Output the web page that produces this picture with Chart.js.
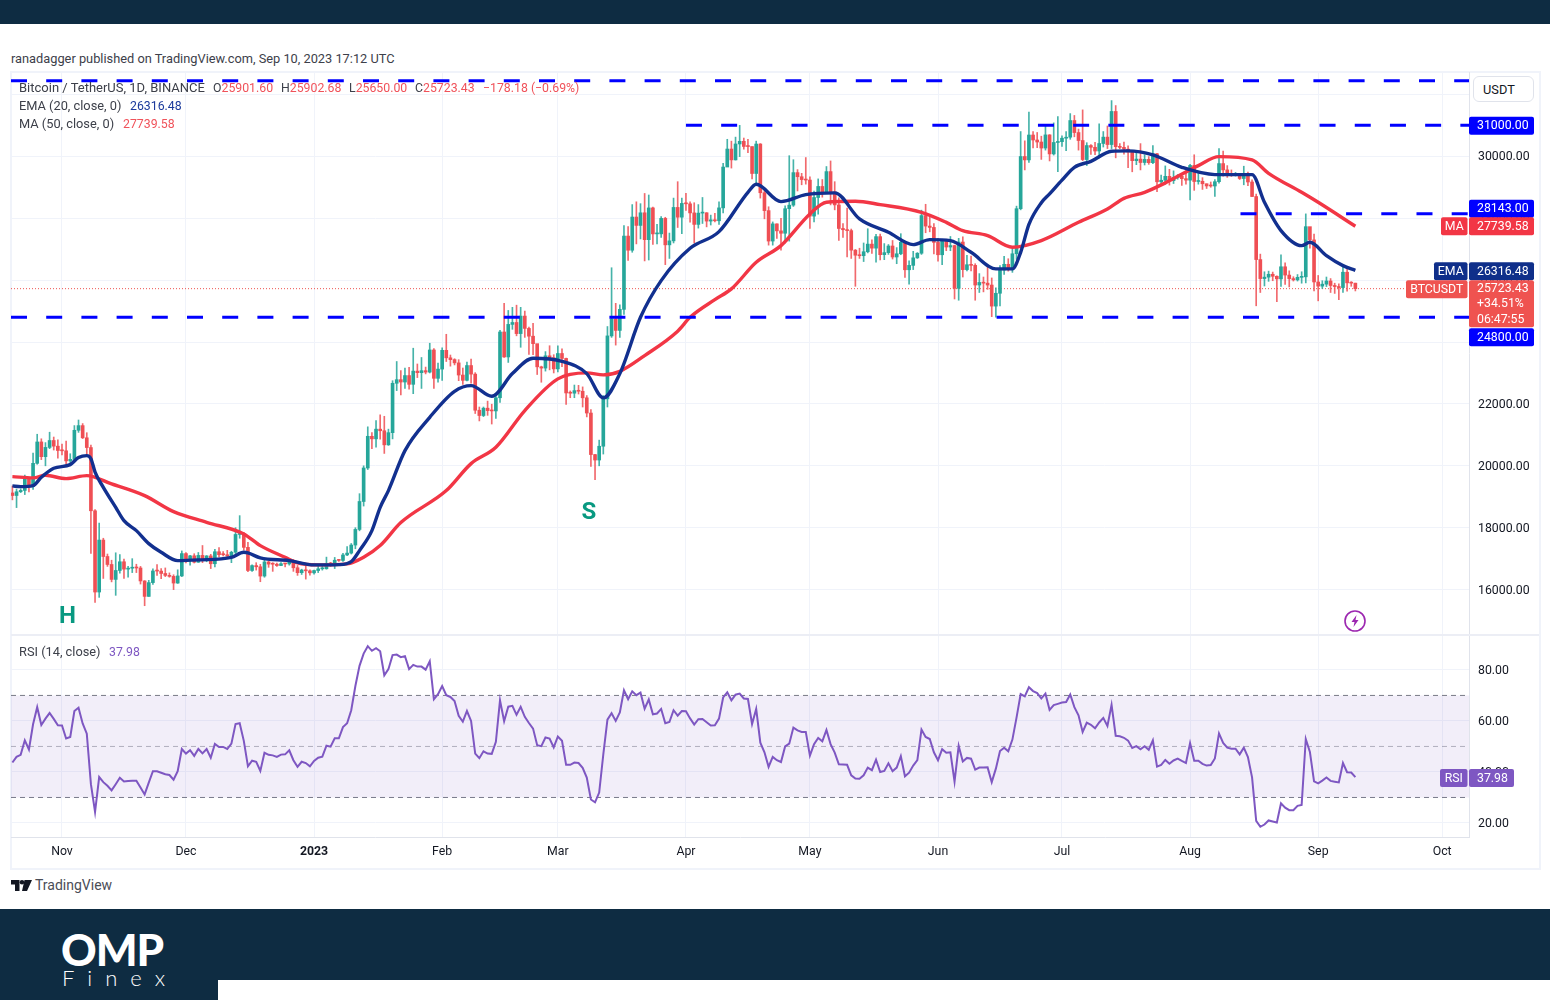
<!DOCTYPE html>
<html>
<head>
<meta charset="utf-8">
<title>BTCUSDT daily</title>
<script src="https://cdn.jsdelivr.net/npm/chart.js@4"></script>
<style>
  html, body { margin: 0; background: #fff; }
  body { position: relative; width: 1550px; height: 1000px; overflow: hidden; font-family: Roboto, sans-serif; color: #3d404a; }
  .abs { position: absolute; white-space: nowrap; }
  canvas { position: absolute; display: block; }
  .bar { position: absolute; background: #0e2c42; }
  .txt { font-size: 12.8px; line-height: 16px; }
  .num { font-size: 12.3px; line-height: 16px; }
  .red { color: #f0525a; }
</style>
</head>
<body>
<div class="bar" style="left:0;top:0;width:1550px;height:24px"></div>
<div class="bar" style="left:0;top:909px;width:1550px;height:91px"></div>
<div class="abs" style="left:218px;top:980px;width:1332px;height:20px;background:#fff"></div>

<div class="abs txt" style="left:11px;top:51px">ranadagger published on TradingView.com, Sep 10, 2023 17:12 UTC</div>

<div class="abs" style="left:10px;top:71px;width:1527px;height:795px;border:2px solid #f0f3fa"></div>
<canvas id="priceChart" style="left:11px;top:72px" width="1528" height="562"></canvas>
<div class="abs" style="left:11px;top:634px;width:1528px;height:2px;background:#eceef5"></div>
<canvas id="rsiChart" style="left:11px;top:636px" width="1528" height="231"></canvas>

<div class="abs txt" style="left:19px;top:80px;font-size:13px">Bitcoin / TetherUS, 1D, BINANCE</div>
<div class="abs num" style="left:213px;top:80px">O<span class="red">25901.60</span></div>
<div class="abs num" style="left:281px;top:80px">H<span class="red">25902.68</span></div>
<div class="abs num" style="left:349px;top:80px">L<span class="red">25650.00</span></div>
<div class="abs num" style="left:415px;top:80px">C<span class="red">25723.43</span></div>
<div class="abs num red" style="left:483px;top:80px">−178.18 (−0.69%)</div>
<div class="abs txt" style="left:19px;top:98px">EMA (20, close, 0)</div>
<div class="abs num" style="left:130px;top:98px;color:#1b3a9c">26316.48</div>
<div class="abs txt" style="left:19px;top:116px">MA (50, close, 0)</div>
<div class="abs num red" style="left:123px;top:116px">27739.58</div>
<div class="abs txt" style="left:19px;top:644px">RSI (14, close)</div>
<div class="abs num" style="left:109px;top:644px;color:#7e57c2">37.98</div>

<div class="abs txt" style="left:1473px;top:76px;line-height:25px;padding-left:9px;box-sizing:border-box;width:61px;height:26px;background:#fff;border:1px solid #e0e3eb;border-radius:6px;color:#131722">USDT</div>

<svg class="abs" style="left:1343px;top:609px" width="24" height="24" viewBox="0 0 24 24">
  <circle cx="12" cy="12" r="10" fill="#fff" stroke="#9c27b0" stroke-width="1.6"/>
  <path d="M13.5 6 L8.5 13 H11.5 L10.5 18 L15.5 11 H12.5 Z" fill="#9c27b0"/>
</svg>

<svg class="abs" style="left:11px;top:880px" width="21" height="11" viewBox="0 0 21 11">
  <path d="M0 0 H8.5 V11 H4 V4.5 H0 Z M13.5 0 H21 L16 11 H11 Z" fill="#131722"/>
  <circle cx="11" cy="2.3" r="2.3" fill="#131722"/>
</svg>
<div class="abs" style="left:35px;top:877px;font-size:14px;line-height:16px;color:#4a4d57">TradingView</div>

<div class="abs" style="left:61px;top:924px;font-family:Lato,sans-serif;font-weight:900;font-size:44px;line-height:50px;color:#fff;letter-spacing:-1px">OMP</div>
<div class="abs" style="left:62px;top:965px;font-family:Lato,sans-serif;font-weight:300;font-size:22px;line-height:26px;color:#fff;letter-spacing:13px">Finex</div>

<script>
// day number counted from Nov 1 2022, first candle is Oct 20 2022
const firstDay = -12;
const monthDays = [0, 30, 61, 92, 120, 151, 181, 212, 242, 273, 304, 334];
const monthLabels = ['Nov', 'Dec', '2023', 'Feb', 'Mar', 'Apr', 'May', 'Jun', 'Jul', 'Aug', 'Sep', 'Oct'];
const priceTicks = [16000, 18000, 20000, 22000, 24000, 26000, 28000, 30000, 32000];
const rsiTicks = [20, 40, 60, 80];
const rsiLevels = [70, 50, 30];

const opens = [
  19123, 19041, 19163, 19205, 19571, 19330, 20080, 20772, 20296, 20594, 20818, 20635,
  20495, 20485, 20159, 20209, 21148, 21299, 20905, 20590, 18547, 15922, 17601, 17070, 16812, 16330, 16619, 16900, 16662, 16692, 16700, 16699, 16280, 15781, 16226, 16603, 16599, 16522, 16459, 16428, 16212, 16442,
  17164, 16978, 17092, 16885, 17105, 16966, 17089, 16836, 17224, 17128, 17127, 17085, 17207, 17782, 17813, 17365, 16618, 16776, 16738, 16438, 16895, 16824, 16821, 16778, 16837, 16830, 16918, 16706, 16547, 16633, 16607,
  16542, 16616, 16672, 16674, 16850, 16830, 16950, 16943, 17120, 17180, 17440, 17944, 18847, 19930, 20954, 20871, 21185, 21133, 20677, 21071, 22667, 22783, 22707, 22916, 22633, 23060, 23009, 23074, 23028, 23743, 22827,
  23125, 23732, 23489, 23431, 23326, 22933, 22762, 23240, 22963, 21796, 21625, 21862, 21783, 21773, 22199, 24324, 23517, 24569, 24631, 24272, 24838, 24439, 24188, 23947, 23198, 23158, 23554, 23493,
  23131, 23629, 23470, 22354, 22346, 22430, 22409, 22197, 21705, 20363, 20187, 20632, 22163, 24197, 24746, 24375, 25055, 27423, 26965, 28038, 27767, 28175, 27307, 28333, 27493, 27494, 27994, 27139, 27268, 28348, 28033,
  28478, 28465, 28171, 27800, 28165, 28175, 27907, 27947, 27917, 28334, 29653, 30235, 29884, 30399, 30485, 30318, 30315, 29445, 30397, 28823, 28245, 27262, 27817, 27591, 27514, 28307, 28422, 29473, 29340, 29248,
  29233, 28068, 28669, 29026, 28838, 29506, 28848, 28430, 27668, 27628, 27599, 26968, 26804, 26788, 26917, 27163, 27033, 27405, 26821, 26888, 27102, 26747, 26851, 27225, 26334, 26476, 26719, 26868, 28085, 27746, 27702,
  27219, 26819, 27249, 27069, 27116, 25735, 27230, 26339, 26498, 26477, 25841, 25925, 25902, 25841, 25160, 25575, 26327, 26511, 26336, 26851, 28307, 29993, 29884, 30688, 30527, 30462, 30267, 30692, 30077, 30447,
  30472, 30585, 30617, 31156, 30767, 30510, 29895, 30348, 30292, 30171, 30414, 30620, 30380, 31449, 30312, 30289, 30231, 30139, 29859, 29910, 29800, 29901, 29794, 30083, 29176, 29227, 29354, 29212, 29314, 29357, 29278,
  29230, 29705, 29186, 29193, 29113, 29042, 29041, 29180, 29765, 29561, 29429, 29397, 29415, 29283, 29408, 29170, 28701, 26664, 26049, 26096, 26189, 26124, 26040, 26431, 26163, 26048, 26008, 26089, 26106, 27727, 27299,
  25940, 25805, 25869, 25971, 25826, 25792, 25759, 26255, 25911, 25902
];
const highs = [
  19347, 19250, 19257, 19700, 19601, 20413, 21020, 20873, 20750, 21086, 20930, 20840,
  20700, 20800, 20390, 21300, 21480, 21365, 21070, 20670, 18590, 18150, 17660, 17150, 16950, 17190, 17130, 16990, 16750, 17000, 16820, 16750, 16290, 16300, 16670, 16810, 16680, 16700, 16540, 16480, 16640, 17250,
  17200, 17105, 17160, 17200, 17425, 17100, 17140, 17300, 17355, 17225, 17270, 17240, 18000, 18390, 17850, 17530, 16800, 16870, 16815, 16960, 16920, 16870, 16860, 16870, 16840, 16930, 16970, 16780, 16660, 16770, 16640,
  16630, 16760, 16780, 17050, 16880, 17040, 16980, 17175, 17390, 17490, 18000, 19100, 20000, 21260, 21070, 21460, 21650, 21600, 21185, 22750, 23370, 23080, 23160, 23180, 23800, 23290, 23500, 23190, 23960, 23790, 23320,
  23810, 24250, 23580, 23460, 23430, 23160, 23350, 23450, 23010, 21900, 21900, 22090, 21990, 22320, 24380, 25250, 25020, 25120, 25190, 25120, 25000, 24480, 24600, 23900, 23220, 23690, 23880, 23590,
  23880, 23780, 23480, 22420, 22610, 22600, 22550, 22270, 21820, 20370, 20830, 22270, 24500, 26400, 25250, 25200, 27760, 27730, 28440, 28530, 28470, 28800, 28750, 28360, 27800, 28050, 28030, 27520, 28650, 29180, 28650,
  28800, 28530, 28500, 28440, 28670, 28180, 28100, 28160, 28530, 29770, 30550, 30490, 30620, 31000, 30590, 30550, 30310, 30490, 30410, 28900, 28370, 27880, 27820, 28000, 28400, 30020, 29890, 29570, 29450, 29960,
  29340, 28880, 29270, 29250, 29670, 29850, 29180, 28660, 27830, 28330, 27650, 26990, 27030, 27200, 27660, 27300, 27480, 27490, 27180, 27150, 27280, 27050, 27500, 27220, 26620, 26930, 26890, 28260, 28450, 28040, 27830,
  27350, 27290, 27320, 27410, 27130, 27350, 27400, 26800, 26780, 26530, 26210, 26100, 26450, 26070, 25750, 26470, 26770, 26690, 27000, 28390, 30800, 30500, 31430, 30800, 30770, 30650, 31000, 30700, 31080, 31280,
  30660, 30800, 31380, 31320, 30880, 31500, 30440, 30380, 30450, 31050, 30800, 30980, 31800, 31640, 30410, 30460, 30340, 30050, 30190, 30410, 30050, 29990, 30350, 30100, 29390, 29690, 29580, 29530, 29410, 29450, 29530,
  29740, 30050, 29450, 29310, 29110, 29170, 29250, 30250, 30170, 29700, 29560, 29480, 29450, 29680, 29490, 29240, 28780, 26840, 26270, 26290, 26260, 26140, 26820, 26560, 26300, 26110, 26180, 26270, 28140, 27580, 27490,
  26150, 25980, 26100, 26050, 25900, 25880, 26450, 26430, 25950, 25902
];
const lows = [
  18900, 18650, 19135, 19071, 19157, 19240, 20050, 20200, 20000, 20553, 20510, 20250,
  20350, 20050, 20030, 20180, 21080, 20880, 20380, 17166, 15588, 15750, 16361, 16750, 16250, 15815, 16530, 16360, 16400, 16550, 16550, 16180, 15480, 15780, 16170, 16460, 16350, 16420, 16400, 16000, 16200, 16420,
  16860, 16790, 16860, 16880, 16870, 16900, 16680, 16730, 17060, 17090, 17070, 16870, 17090, 17660, 17275, 16580, 16585, 16630, 16255, 16400, 16720, 16590, 16750, 16775, 16730, 16790, 16590, 16460, 16490, 16340, 16470,
  16500, 16550, 16630, 16660, 16750, 16680, 16910, 16910, 17100, 17150, 17320, 17900, 18700, 19880, 20550, 20600, 20860, 20400, 20660, 20870, 22430, 22290, 22500, 22480, 22330, 22850, 22500, 22970, 23000, 22500, 22700,
  22760, 23370, 23220, 23260, 22750, 22630, 22740, 22670, 21690, 21450, 21590, 21630, 21350, 21530, 22050, 23500, 23340, 24410, 24200, 23830, 24150, 23600, 23590, 22950, 22700, 23060, 23100, 23000,
  23030, 23200, 21980, 22200, 22200, 22320, 21900, 21580, 19980, 19550, 20000, 20380, 21900, 24150, 23900, 24150, 24890, 26640, 26900, 27170, 27330, 26620, 26650, 27150, 27170, 27380, 26500, 26700, 27200, 27700, 27500,
  28250, 27870, 27200, 27680, 27830, 27720, 27780, 27880, 27800, 28170, 29770, 29620, 29880, 29990, 30230, 30120, 29270, 29100, 28650, 27980, 27130, 27130, 27350, 26970, 27200, 27260, 28380, 28880, 29080, 29100,
  27670, 27880, 28130, 28680, 28800, 28430, 28270, 27280, 27380, 26750, 26700, 25800, 26700, 26600, 26880, 26860, 26580, 26650, 26660, 26830, 26680, 26530, 26820, 26090, 25870, 26340, 26700, 26830, 27530, 27560, 26850,
  26610, 26500, 26950, 26950, 25390, 25350, 26100, 26300, 26300, 25350, 25600, 25620, 25700, 24820, 24800, 25170, 26180, 26290, 26250, 26670, 28270, 29560, 29800, 30270, 30280, 29900, 30200, 29850, 30040, 29500,
  30320, 30180, 30550, 30630, 30200, 29860, 29700, 30060, 30050, 29950, 30300, 30250, 30250, 29950, 30250, 30070, 29630, 29500, 29730, 29560, 29720, 29740, 29760, 28860, 29050, 29100, 29070, 29120, 29260, 29060, 29100,
  28590, 28900, 29100, 28930, 28960, 29000, 28700, 29130, 29360, 29320, 29350, 29360, 29250, 29080, 29050, 28700, 25170, 25600, 25810, 25960, 25980, 25300, 25800, 25860, 25780, 25970, 25970, 25900, 25910, 27030, 25650,
  25330, 25730, 25790, 25600, 25570, 25370, 25600, 25640, 25800, 25650
];
const closes = [
  19040, 19162, 19206, 19570, 19331, 20080, 20771, 20295, 20595, 20818, 20635, 20495,
  20485, 20159, 20209, 21148, 21299, 20905, 20590, 18547, 15922, 17601, 17070, 16812, 16330, 16619, 16900, 16662, 16692, 16700, 16699, 16280, 15781, 16226, 16603, 16599, 16522, 16459, 16428, 16212, 16442, 17164,
  16978, 17092, 16885, 17105, 16966, 17089, 16836, 17224, 17128, 17127, 17085, 17207, 17782, 17813, 17365, 16618, 16776, 16738, 16438, 16895, 16824, 16821, 16778, 16837, 16830, 16918, 16706, 16547, 16633, 16607, 16542,
  16616, 16672, 16674, 16850, 16830, 16950, 16943, 17120, 17180, 17440, 17944, 18847, 19930, 20954, 20871, 21185, 21133, 20677, 21071, 22667, 22783, 22707, 22916, 22633, 23060, 23009, 23074, 23028, 23743, 22827, 23125,
  23732, 23489, 23431, 23326, 22933, 22762, 23240, 22963, 21796, 21625, 21862, 21783, 21773, 22199, 24324, 23517, 24569, 24631, 24272, 24838, 24439, 24188, 23947, 23198, 23158, 23554, 23493, 23131,
  23629, 23470, 22354, 22346, 22430, 22409, 22197, 21705, 20363, 20187, 20632, 22163, 24197, 24746, 24375, 25055, 27423, 26965, 28038, 27767, 28175, 27307, 28333, 27493, 27494, 27994, 27139, 27268, 28348, 28033, 28478,
  28465, 28171, 27800, 28165, 28175, 27907, 27947, 27917, 28334, 29653, 30235, 29884, 30399, 30485, 30318, 30315, 29445, 30397, 28823, 28245, 27262, 27817, 27591, 27514, 28307, 28422, 29473, 29340, 29248, 29233,
  28068, 28669, 29026, 28838, 29506, 28848, 28430, 27668, 27628, 27599, 26968, 26804, 26788, 26917, 27163, 27033, 27405, 26821, 26888, 27102, 26747, 26851, 27225, 26334, 26476, 26719, 26868, 28085, 27746, 27702, 27219,
  26819, 27249, 27069, 27116, 25735, 27230, 26339, 26498, 26477, 25841, 25925, 25902, 25841, 25160, 25575, 26327, 26511, 26336, 26851, 28307, 29993, 29884, 30688, 30527, 30462, 30267, 30692, 30077, 30447, 30472,
  30585, 30617, 31156, 30767, 30510, 29895, 30348, 30292, 30171, 30414, 30620, 30380, 31449, 30312, 30289, 30231, 30139, 29859, 29910, 29800, 29901, 29794, 30083, 29176, 29227, 29354, 29212, 29314, 29357, 29278, 29230,
  29705, 29186, 29193, 29113, 29042, 29041, 29180, 29765, 29561, 29429, 29397, 29415, 29283, 29408, 29170, 28701, 26664, 26049, 26096, 26189, 26124, 26040, 26431, 26163, 26048, 26008, 26089, 26106, 27727, 27299, 25940,
  25805, 25869, 25971, 25826, 25792, 25759, 26255, 25911, 25902, 25723
];

const emaDays = [-12, -10, -7, -5, -2, 2, 4, 6, 7, 8, 10, 13, 15, 18, 21, 24, 28, 33, 41, 44, 45, 48, 55, 61, 67, 70, 72, 75, 77, 79, 83, 89, 95, 99, 104, 109, 114, 121, 127, 131, 135, 140, 145, 152, 159, 166, 168, 174, 180, 187, 193, 200, 206, 210, 215, 220, 226, 230, 232, 234, 237, 239, 242, 245, 249, 254, 258, 264, 271, 279, 288, 291, 295, 300, 302, 306, 310, 313];
const emaValues = [19351, 19328, 19360, 19628, 19920, 20039, 20265, 20330, 20230, 19800, 19305, 18659, 18229, 17906, 17486, 17205, 16937, 16960, 17044, 17205, 17186, 17024, 16937, 16798, 16808, 16905, 17260, 17906, 18659, 19199, 20491, 21567, 22407, 22591, 22246, 22979, 23473, 23376, 22979, 22194, 22979, 24798, 25984, 27027, 27567, 28837, 29095, 28536, 28763, 28817, 27977, 27545, 27147, 27309, 27276, 26898, 26362, 26362, 26898, 27800, 28500, 28785, 29230, 29645, 29838, 30162, 30174, 30045, 29645, 29409, 29409, 28514, 27600, 27115, 27221, 26792, 26468, 26316];
const maDays = [-12, -7, -4, 1, 6, 12, 20, 27, 35, 44, 48, 54, 57, 62, 69, 73, 77, 82, 93, 99, 105, 112, 120, 127, 131, 135, 141, 149, 152, 158, 162, 168, 174, 181, 185, 192, 198, 208, 214, 218, 224, 230, 237, 246, 253, 257, 262, 267, 275, 280, 288, 292, 300, 304, 313];
const maValues = [19651, 19609, 19693, 19586, 19683, 19415, 19037, 18520, 18175, 17800, 17422, 17044, 16863, 16798, 16830, 17044, 17422, 18165, 19199, 20071, 20598, 21784, 22808, 23002, 22937, 23053, 23561, 24350, 24798, 25370, 25716, 26576, 27115, 28139, 28514, 28546, 28439, 28190, 27867, 27599, 27438, 27060, 27276, 27867, 28300, 28642, 28837, 29141, 29700, 29990, 29884, 29451, 28837, 28514, 27739];

const rsiValues = [
  43.7, 45.9, 46.7, 52.4, 48.8, 58.7, 65.4, 58.4, 60.9, 63.1, 60.8, 58.3,
  58.2, 53.1, 53.7, 63.9, 65.2, 59, 55, 35.2, 24.3, 38, 36, 34.6, 32.8, 35.2, 37.7, 36.3, 36.5, 36.6, 36.6, 33.9, 31.2, 35.8, 40.3, 40.3, 39.7, 39.1, 38.8, 37, 40.3, 49,
  47.2, 48.5, 46.3, 49, 47.3, 49, 45.6, 51, 49.8, 49.8, 49, 51.1, 58.8, 59.1, 52.2, 42.2, 44.4, 44, 40.4, 47.5, 46.7, 46.5, 45.9, 46.8, 46.9, 48.5, 44.6, 42, 44, 43.5, 42.2,
  44.3, 45.6, 46, 50.3, 49.9, 53.2, 53.2, 57.6, 59.1, 64.2, 73.7, 81.6, 86.4, 89.3, 87.5, 88.5, 87.3, 77.9, 80.3, 85.8, 86, 85, 85.4, 80.3, 82, 81.3, 81.3, 80.1, 83.4, 68.5,
  70.5, 73.7, 70.1, 69.4, 67.8, 62, 59.7, 63.9, 60, 47.2, 45.4, 48.1, 47.2, 47.1, 51.8, 68.1, 59.9, 65.6, 65.9, 62.4, 65.5, 61.6, 59.2, 57, 50.5, 50.1, 53.5, 53.1,
  49.6, 53.9, 52.2, 42.8, 42.8, 43.7, 43.5, 41.6, 37.8, 29.2, 28.1, 31.9, 46.9, 60.5, 63, 60, 63.3, 72, 68.5, 71.6, 70.1, 71.1, 64.8, 68.4, 62.6, 62.9, 64.7, 59.1, 59.6, 64.2, 62.1,
  63.9, 63.8, 61, 58.6, 60.7, 60.8, 59.5, 58.2, 58.3, 60.9, 69.2, 71.2, 68.1, 70.3, 70.7, 68.8, 68.6, 58.8, 64.7, 51.5, 47.7, 42, 45.9, 44.6, 43.9, 50, 51.1, 57.4, 56.3, 55.7,
  55.7, 46.4, 50.9, 53.3, 52, 56.5, 50.9, 47.6, 43, 42.9, 42.8, 38.7, 37.4, 37.3, 38.7, 41.7, 40.7, 44.8, 40, 40.4, 43.4, 40.3, 41.7, 46.2, 38.3, 39.7, 42.5, 44.6, 56.6, 53.7, 52.9,
  47.7, 44.6, 48.9, 47.5, 47.7, 36.2, 50.2, 44.1, 45.5, 45.2, 40.9, 41.7, 41.7, 41.8, 36, 41.3, 48.2, 49.5, 48.1, 52.7, 61.3, 70.5, 69.6, 73.2, 71.7, 70.9, 68.8, 70.7, 64.3, 66.2, 66.7,
  67.2, 67.4, 70.4, 65.4, 62.2, 55.7, 59.3, 58.5, 57.1, 59.4, 61.2, 58, 66.3, 54.2, 54, 53.4, 52.3, 49.4, 50.1, 48.9, 50.1, 48.7, 52.4, 42.1, 42.8, 44.7, 43.2, 44.5, 45.2, 44.3, 43.5,
  51.3, 44.4, 44.4, 43.2, 42.5, 42.7, 45.3, 55.1, 51.4, 49.5, 49.1, 49.1, 46.9, 49.5, 45.8, 37.9, 20.8, 18.5, 19.4, 21, 20.6, 20.2, 27.7, 26, 25, 25, 26.7, 27.1, 52.9, 47.8, 36.3,
  35.5, 36.6, 37.8, 36.5, 36.2, 35.9, 43.5, 39.9, 39.8, 37.98
];

// drawn levels, first two run the full width
const levelValues = [32440, 24800, 31000, 28143];
const levelStartDays = [-12.34, -12.34, 151, 285.2];
const lastPrice = 25723.43;

const patternLabels = ['H', 'S'];
const patternDays = [1.3, 127.5];
const patternPrices = [15100, 18491];

const UP = '#26a69a';
const DOWN = '#ef4f54';
const BLUE = '#0000ff';
const GRID = '#f0f3fa';
const FONT = 'Roboto, sans-serif';
const X_MIN = -12.34;
const X_MAX = 340.5;

const candleDays = opens.map((o, i) => firstDay + i);
const candleColors = opens.map((o, i) => closes[i] >= o ? UP : DOWN);
const wickColors = opens.map((o, i) => closes[i] >= o ? 'rgba(38,166,154,0.85)' : 'rgba(239,79,84,0.85)');

function drawTag(ctx, x, y, w, h, bg, lines, centered) {
    ctx.fillStyle = bg;
    ctx.beginPath();
    ctx.roundRect(x, y, w, h, 2);
    ctx.fill();
    ctx.fillStyle = '#fff';
    ctx.font = `12.3px ${FONT}`;
    ctx.textBaseline = 'middle';
    ctx.textAlign = centered ? 'center' : 'left';
    const step = h / lines.length;
    lines.forEach((line, i) => ctx.fillText(line, centered ? x + w / 2 : x + 8, y + step * i + step / 2 + 0.5));
}

// ticks.padding also gets added above and below the plot, take it back out
function fitRightAxis(scale) {
    scale.width = 70;
    scale.paddingTop = 0;
    scale.paddingBottom = 0;
}

const priceLabels = {
    id: 'priceLabels',
    afterDatasetsDraw(chart) {
        const ctx = chart.ctx;
        const y = chart.scales.y;
        const x = chart.scales.x;
        const right = chart.chartArea.right;
        ctx.save();
        ctx.fillStyle = '#089981';
        ctx.font = `bold 24px ${FONT}`;
        ctx.textAlign = 'center';
        ctx.textBaseline = 'middle';
        patternLabels.forEach((label, i) => {
            ctx.fillText(label, x.getPixelForValue(patternDays[i]), y.getPixelForValue(patternPrices[i]));
        });
        const at = (value, shift) => y.getPixelForValue(value) + shift;
        drawTag(ctx, right, at(31000, -8.5), 65, 18, BLUE, ['31000.00']);
        drawTag(ctx, right, at(28143, -14), 65, 18, BLUE, ['28143.00']);
        drawTag(ctx, right, at(27739.58, -9), 65, 18, '#f23645', ['27739.58']);
        drawTag(ctx, right - 28, at(27739.58, -9), 26.5, 18, '#f23645', ['MA'], true);
        drawTag(ctx, right, at(26316.48, -8), 65, 18, '#0f2f8a', ['26316.48']);
        drawTag(ctx, right - 35, at(26316.48, -8), 33.5, 18, '#0f2f8a', ['EMA'], true);
        drawTag(ctx, right, at(lastPrice, -8.5), 65, 47, '#ef5350', ['25723.43', '+34.51%', '06:47:55']);
        drawTag(ctx, right - 63, at(lastPrice, -8.5), 61.5, 18, '#ef5350', ['BTCUSDT'], true);
        drawTag(ctx, right, at(24800, 11), 65, 18, BLUE, ['24800.00']);
        ctx.restore();
    }
};

const rsiLabels = {
    id: 'rsiLabels',
    afterDatasetsDraw(chart) {
        const y = chart.scales.y;
        const right = chart.chartArea.right;
        const top = y.getPixelForValue(37.98) - 8;
        drawTag(chart.ctx, right, top, 45, 18, '#7e57c2', ['37.98']);
        drawTag(chart.ctx, right - 29, top, 27.5, 18, '#7e57c2', ['RSI'], true);
    }
};

const sharedX = {
    type: 'linear',
    min: X_MIN,
    max: X_MAX,
    offset: false,
    afterBuildTicks(scale) { scale.ticks = monthDays.map(value => ({ value })); },
    grid: { color: GRID, drawTicks: false, offset: false }
};

new Chart(document.getElementById('priceChart'), {
    type: 'bar',
    data: {
        datasets: [
            ...levelValues.map((value, i) => ({
                type: 'line',
                data: [{ x: levelStartDays[i], y: value }, { x: X_MAX, y: value }],
                borderColor: BLUE,
                borderWidth: 3,
                borderDash: [16, 19.2],
                pointRadius: 0,
                order: 0
            })),
            {
                type: 'line',
                data: [{ x: X_MIN, y: lastPrice }, { x: X_MAX, y: lastPrice }],
                borderColor: '#ef5350',
                borderWidth: 1,
                borderDash: [1, 2],
                pointRadius: 0,
                order: 6
            },
            {
                type: 'line',
                data: emaDays.map((d, i) => ({ x: d, y: emaValues[i] })),
                borderColor: '#12308f',
                borderWidth: 3.4,
                cubicInterpolationMode: 'monotone',
                pointRadius: 0,
                order: 1
            },
            {
                type: 'line',
                data: maDays.map((d, i) => ({ x: d, y: maValues[i] })),
                borderColor: '#f23645',
                borderWidth: 3.4,
                cubicInterpolationMode: 'monotone',
                pointRadius: 0,
                order: 2
            },
            {
                data: candleDays.map((d, i) => ({ x: d, y: [opens[i], closes[i]] })),
                backgroundColor: candleColors,
                barThickness: 3,
                minBarLength: 1,
                grouped: false,
                order: 3
            },
            {
                data: candleDays.map((d, i) => ({ x: d, y: [lows[i], highs[i]] })),
                backgroundColor: wickColors,
                barThickness: 1,
                grouped: false,
                order: 4
            }
        ]
    },
    options: {
        responsive: false,
        animation: false,
        plugins: { legend: { display: false }, tooltip: { enabled: false } },
        scales: {
            x: { ...sharedX, afterFit(scale) { scale.height = 0; }, border: { display: false }, ticks: { display: false } },
            y: {
                position: 'right',
                min: 14566,
                max: 32724,
                afterBuildTicks(scale) { scale.ticks = priceTicks.map(value => ({ value })); },
                afterFit: fitRightAxis,
                grid: { color: GRID, drawTicks: false },
                border: { color: '#e0e3eb' },
                ticks: {
                    autoSkip: false,
                    padding: 9,
                    labelOffset: 1,
                    color: '#131722',
                    font: { family: FONT, size: 12.3 },
                    callback: value => value.toFixed(2)
                }
            }
        }
    },
    plugins: [priceLabels]
});

new Chart(document.getElementById('rsiChart'), {
    type: 'line',
    data: {
        datasets: [
            ...rsiLevels.map((level, i) => ({
                data: [{ x: X_MIN, y: level }, { x: X_MAX, y: level }],
                borderColor: level === 50 ? 'rgba(120,123,134,0.55)' : '#787b86',
                borderWidth: 1,
                borderDash: [5, 4],
                pointRadius: 0,
                fill: level === 70 ? 2 : false,
                backgroundColor: 'rgba(126,87,194,0.1)',
                order: 2
            })),
            {
                data: rsiValues.map((v, i) => ({ x: firstDay + i, y: v })),
                borderColor: '#7e57c2',
                borderWidth: 2,
                pointRadius: 0,
                fill: false,
                order: 1
            }
        ]
    },
    options: {
        responsive: false,
        animation: false,
        plugins: { legend: { display: false }, tooltip: { enabled: false } },
        scales: {
            x: {
                ...sharedX,
                afterFit(scale) { scale.height = 30; },
                border: { color: '#e0e3eb' },
                ticks: {
                    autoSkip: false,
                    maxRotation: 0,
                    padding: 8,
                    color: '#131722',
                    font: ctx => ({ family: FONT, size: 12.3, weight: ctx.tick && ctx.tick.value === 61 ? 'bold' : 'normal' }),
                    callback: value => monthLabels[monthDays.indexOf(value)]
                }
            },
            y: {
                position: 'right',
                min: 14.5,
                max: 93.3,
                afterBuildTicks(scale) { scale.ticks = rsiTicks.map(value => ({ value })); },
                afterFit: fitRightAxis,
                grid: { color: GRID, drawTicks: false },
                border: { color: '#e0e3eb' },
                ticks: {
                    autoSkip: false,
                    padding: 9,
                    labelOffset: 1,
                    color: '#131722',
                    font: { family: FONT, size: 12.3 },
                    callback: value => value.toFixed(2)
                }
            }
        }
    },
    plugins: [rsiLabels]
});
</script>
</body>
</html>
